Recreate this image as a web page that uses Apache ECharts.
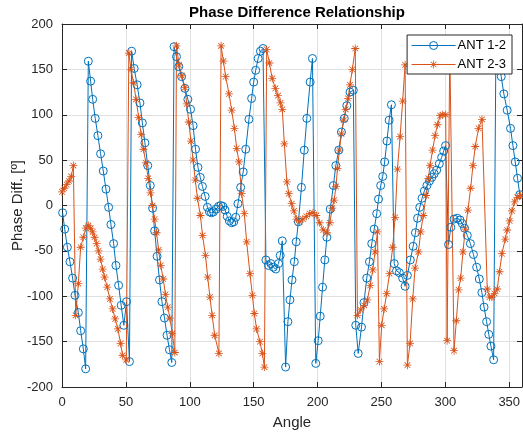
<!DOCTYPE html>
<html>
<head>
<meta charset="utf-8">
<script src="https://cdn.jsdelivr.net/npm/echarts@6/dist/echarts.min.js"></script>
<style>
  html, body { margin: 0; padding: 0; background: #fff; }
  #chart { width: 523px; height: 434px; }
</style>
</head>
<body>
<div id="chart"></div>
<script>
// ANT 1-2 (blue, circles)
const ant12Angle = [0.5, 2.1, 4.2, 6.2, 8.3, 10.2, 12.8, 14.6, 16.7, 18.5,
  20.6, 22.4, 24, 26, 28.1, 30.2, 32.3, 34.4, 36.5, 38.3, 40.4, 42.2, 44.3, 46.3, 48.4, 50.5, 52.8,
  54.5, 56.5, 58.8, 61, 62.9, 64.9, 67.1, 69.1, 70.9, 72.5, 74.4, 76.3, 78.2, 80.2, 82.2, 84.1, 85.9,
  87.7, 89.6, 91.4, 93.6, 96.2, 98.5, 100.6, 102.6, 104.5, 106.4, 108.2, 109.9, 112, 113.8, 115.4, 117,
  118.6, 120.5, 122.5, 124.3, 126, 127.6, 129.3, 131, 132.8, 134.4, 136, 137.7, 139.8, 141.8, 143.8,
  146.3, 148.4, 150, 151.6, 153.5, 155.3, 157.3,
  159.6, 161.5, 163.4, 165.4, 167.3, 169.4, 170.8, 172.4,
  175, 176.8, 178.4, 180, 181.8, 183.3, 185, 187.4, 189.6, 191.6, 194.2, 196,
  198.6, 200.5, 202.1, 203.9, 205.7, 207.3, 209.9, 212.4, 214.3, 216.6, 218.7, 220.9, 222.9, 225.4, 228,
  229.9, 231.8, 234.4, 236.3, 238.5, 240.6, 242.4, 244.3, 246.3, 247.7, 249.4, 251, 252.5, 254.3, 256, 257.8,
  260, 261.8, 264, 266.6, 268.5, 270.3, 272.6, 274.8, 276.6, 278.3, 280, 281.8, 283.6, 285.6, 287.6,
  289.4, 291.3, 293.2, 295.3, 297.1, 298.7, 300.2,
  302.5, 304.3, 306.8, 309.3, 311.5, 313.3, 315, 317.2, 319.6, 322, 324.5, 326.6, 328.6, 330.3, 332.3,
  334, 335.7, 337.8,
  339.6, 341.7, 343.75, 345.8, 348.4, 351, 352.9, 354.7, 356.5, 358.3];
const ant12Phase = [-8, -26, -46, -62, -80, -99, -118, -138, -158, -180,
  159, 137, 117, 96, 77, 57, 38, 18, -2, -21, -42, -66, -88, -110, -132, -106, -172,
  170, 151, 133, 113, 91, 69, 44, 22, -3, -28, -56, -82, -106, -124, -143, -159, -173,
  175, 164, 153, 142, 129, 117, 106, 88, 62, 42, 31, 21, 10, -2, -7, -8,
  -7, -4, -1, 0, -1, -5, -12, -17, -19, -18, -13, 2, 20, 37, 62,
  95, 118, 136, 149, 162, 170, 173,
  -60, -66, -64, -68, -70, -64, -55, -39,
  -178, -128, -104, -82, -62, -40, -18, 20, 61, 96, 136, 162,
  -174, -149, -122, -90, -60, -35, -4, 22, 44, 61, 81, 96, 110, 125, 127,
  -132, -163, -134, -107, -80, -62, -42, -26, -9, 7, 22, 32, 48, 71, 94, 111,
  -64, -72, -74, -80, -89, -77, -60, -45, -30, -14, -2, 8, 16, 22, 27,
  31, 35, 39, 46, 53, 60, 66,
  -43, -24, -15, -14, -16, -20, -25, -33, -42, -54, -68, -81, -96, -112, -128,
  -142, -155, -170,
  177, 160, 142, 123, 105, 85, 66, 48, 30, 12];

// ANT 2-3 (orange, asterisks)
const ant23Angle = [0, 1.8, 3.7, 5.5, 7.2, 8.9, 10.7, 12.8, 14.6, 16.7, 18.6, 20.6, 22.4, 24, 25.5, 27.1,
  28.6, 30.2, 31.8, 33.3, 35.4, 37.5, 39.6, 41.6, 43.7, 45.9, 47.4, 50.3,
  52.3, 54, 56, 58, 60, 62, 63.8, 65.6, 67.5, 69.2, 70.8, 72.5, 74, 75.6, 77.3, 79.2, 81, 82.8, 84.4,
  86.3, 88.3,
  89.6, 91.6, 93.75, 96.2, 97.6, 99.2, 100.9, 102.6, 104.3, 106, 108.3, 110, 112.3, 114, 115.8, 117.5,
  119.5, 122.8,
  124.5, 126.3, 128.1, 130.7, 132.8, 134.9, 136.7, 138.5, 140.6, 142.7, 144.5, 147.1, 149, 150.5, 152.3,
  154.9, 156.8, 158.4,
  160.2, 162.3, 164.5, 167, 169, 171, 172.4, 174, 176, 177.5, 179.7, 181.5, 183.5, 185.9, 188.5, 191.2,
  193.8, 196.4, 199, 201.6, 204.5, 207.3, 209.6, 211.5, 213, 214.4, 215.6, 217.1, 218.7, 220.4, 222,
  223.8, 225.4, 227.2, 229.5,
  231.2, 233.7, 236.5, 239, 241.2, 243.2, 245, 246.9, 248.4, 250.2, 252.1, 254.1, 256.3, 258.8, 260.7,
  262.5, 264.6, 266.6, 268.5,
  270.3, 272.4, 274.5, 276.3, 279, 280.7, 282.8, 284.9, 286.7, 288, 290, 292, 293.8, 295.9, 297.9, 300.3,
  301.4, 303.5, 306.8, 308.6, 310.4, 312, 313.8, 315.6, 317.7, 319.8, 321.6, 323.4, 326, 328.7,
  332.8, 334.6, 336.5, 338.5, 340.6, 342.4, 344.3, 346.9, 348.4, 350.3, 352.1, 354.2, 356.3, 358.8];
const ant23Phase = [15, 19, 23, 27, 32, 44, -121, -86, -46, -35, -25, -22, -25, -29, -35, -42,
  -50, -59, -70, -79, -90, -103, -114, -125, -136, -152, -165, -170,
  168, 150, 135, 117, 97, 78, 62, 47, 30, 14, 0, -15, -30, -49, -66, -81, -98, -112, -124,
  -141, -162,
  176, 155, 143, 130, 112, 92, 71, 50, 28, 8, -11, -33, -55, -79, -101, -121,
  -143, -163,
  176, 159, 142, 123, 105, 85, 63, 48, 13, -9, -40, -75, -99, -119, -136,
  -150, -163, -178,
  172, 157, 140, 129, 121, 113, 106, 68, 26, 13, 2, -6, -15, -18, -15, -12,
  -9, -8, -11, -19, -27, -30, -19, -3, 6, 21, 41, 61, 79, 94, 106,
  118, 133, 150, 173,
  -121, -115, -110, -104, -88, -71, -51, -29, -172, -132, -114, -97, -75, -46, -13,
  40, 76, 115, 155,
  -176, -152, -103, -69, -51, -29, -11, 11, 30, 44, 61, 77, 89, 99, 100, 100,
  -149, 172, -160, -127, -93, -80, -51, -26, -5, 19, 44, 65, 85, 95,
  -92, -101, -101, -97, -92, -73, -53, -37, -27, -17, -6, 4, 9, 11];

const xTicks = [0, 50, 100, 150, 200, 250, 300, 350];
const yTicks = [-200, -150, -100, -50, 0, 50, 100, 150, 200];

const zip = (a, b) => a.map((v, i) => [v, b[i]]);

// MATLAB style '*' marker (plus + cross)
const asterisk = 'path://M-10,-1L10,-1L10,1L-10,1Z' +
  'M-1,-10L1,-10L1,10L-1,10Z' +
  'M-6.36,-7.78L7.78,6.36L6.36,7.78L-7.78,-6.36Z' +
  'M-7.78,6.36L6.36,-7.78L7.78,-6.36L-6.36,7.78Z';

const axisColor = '#262626';
const fontFamily = 'Liberation Sans, Arial, sans-serif';

const chart = echarts.init(document.getElementById('chart'));
const option = {
  animation: false,
  backgroundColor: '#fff',
  title: {
    text: 'Phase Difference Relationship',
    left: 292,
    textAlign: 'center',
    top: 0,
    textStyle: { fontFamily: fontFamily, fontSize: 15, fontWeight: 'bold', color: '#000' }
  },
  legend: {
    orient: 'vertical',
    right: 11,
    top: 35,
    padding: [4, 6, 3, 4],
    itemWidth: 44,
    itemHeight: 10,
    itemGap: 6,
    backgroundColor: '#fff',
    borderColor: axisColor,
    borderWidth: 1,
    borderRadius: 0,
    lineStyle: { width: 1 },
    itemStyle: { borderWidth: 1 },
    textStyle: { fontFamily: fontFamily, fontSize: 13, color: '#000', padding: [0, 0, 0, -3] },
    data: ['ANT 1-2', 'ANT 2-3']
  },
  grid: { left: 62, right: 1, top: 24, bottom: 47, containLabel: false, outerBoundsMode: 'none' },
  xAxis: [
    {
      type: 'value',
      min: 0,
      max: 360,
      interval: 50,
      name: 'Angle',
      nameLocation: 'middle',
      nameGap: 28,
      nameMoveOverlap: false,
      nameTextStyle: { fontFamily: fontFamily, fontSize: 15, color: axisColor },
      axisLine: { show: true, onZero: false, lineStyle: { color: axisColor, width: 1 } },
      axisTick: { show: true, inside: true, length: 5, lineStyle: { color: axisColor } },
      axisLabel: {
        fontFamily: fontFamily, fontSize: 13, color: axisColor, margin: 9,
        showMaxLabel: false,
        formatter: v => (xTicks.includes(v) ? String(v) : '')
      },
      splitLine: { show: true, lineStyle: { color: '#e0e0e0', width: 1 } }
    },
    {
      type: 'value',
      position: 'top',
      min: 0,
      max: 360,
      interval: 50,
      axisLine: { show: true, onZero: false, lineStyle: { color: axisColor, width: 1 } },
      axisTick: { show: true, inside: true, length: 5, lineStyle: { color: axisColor } },
      axisLabel: { show: false },
      splitLine: { show: false }
    }
  ],
  yAxis: [
    {
      type: 'value',
      min: -200,
      max: 200,
      interval: 50,
      name: 'Phase Diff. [º]',
      nameLocation: 'middle',
      nameGap: 37,
      nameMoveOverlap: false,
      nameTextStyle: { fontFamily: fontFamily, fontSize: 15, color: axisColor },
      axisLine: { show: true, onZero: false, lineStyle: { color: axisColor, width: 1 } },
      axisTick: { show: true, inside: true, length: 5, lineStyle: { color: axisColor } },
      axisLabel: {
        fontFamily: fontFamily, fontSize: 13, color: axisColor, margin: 9,
        formatter: v => (yTicks.includes(v) ? String(v) : '')
      },
      splitLine: { show: true, lineStyle: { color: '#e0e0e0', width: 1 } }
    },
    {
      type: 'value',
      position: 'right',
      min: -200,
      max: 200,
      interval: 50,
      axisLine: { show: true, onZero: false, lineStyle: { color: axisColor, width: 1 } },
      axisTick: { show: true, inside: true, length: 5, lineStyle: { color: axisColor } },
      axisLabel: { show: false },
      splitLine: { show: false }
    }
  ],
  series: [
    {
      name: 'ANT 1-2',
      type: 'line',
      data: zip(ant12Angle, ant12Phase),
      symbol: 'circle',
      symbolSize: 8,
      showAllSymbol: true,
      lineStyle: { color: '#0072BD', width: 1 },
      itemStyle: { color: 'rgba(255,255,255,0)', borderColor: '#0072BD', borderWidth: 1 }
    },
    {
      name: 'ANT 2-3',
      type: 'line',
      data: zip(ant23Angle, ant23Phase),
      symbol: asterisk,
      symbolSize: 8,
      showAllSymbol: true,
      lineStyle: { color: '#D95319', width: 1 },
      itemStyle: { color: '#D95319' }
    }
  ]
};
chart.setOption(option);
window.addEventListener('resize', () => chart.resize());
</script>
</body>
</html>
